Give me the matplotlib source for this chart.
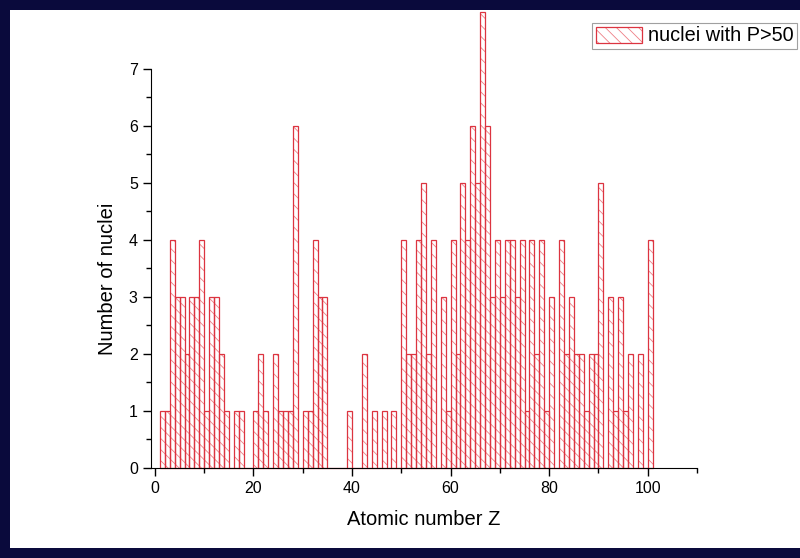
import matplotlib.pyplot as plt
import matplotlib.patches as mpatches
from matplotlib.ticker import FixedLocator

plt.rcParams['font.family'] = ['Liberation Sans', 'DejaVu Sans']
plt.rcParams['hatch.linewidth'] = 0.6

# atomic number Z and number of nuclei with P>50 for each Z
z_values = list(range(1, 101))
counts = [1, 1, 4, 3, 3, 2, 3, 3, 4, 1,
          3, 3, 2, 1, 0, 1, 1, 0, 0, 1,
          2, 1, 0, 2, 1, 1, 1, 6, 0, 1,
          1, 4, 3, 3, 0, 0, 0, 0, 1, 0,
          0, 2, 0, 1, 0, 1, 0, 1, 0, 4,
          2, 2, 4, 5, 2, 4, 0, 3, 1, 4,
          2, 5, 4, 6, 5, 8, 6, 3, 4, 3,
          4, 4, 3, 4, 1, 4, 2, 4, 1, 3,
          0, 4, 2, 3, 2, 2, 1, 2, 2, 5,
          0, 3, 1, 3, 1, 2, 0, 2, 0, 4]
x_ticks = [0, 20, 40, 60, 80, 100]
x_minor = [10, 30, 50, 70, 90, 110]
y_ticks = [0, 1, 2, 3, 4, 5, 6, 7]
y_minor = [0.5, 1.5, 2.5, 3.5, 4.5, 5.5, 6.5]

red = '#dc3440'
pink = '#ee7f86'

fig = plt.figure(figsize=(8, 5.58), dpi=100, facecolor='#0a0a3c')
# white panel inside the dark frame
fig.patches.append(mpatches.Rectangle((10 / 800, 10 / 558), 790 / 800, 538 / 558,
                                      transform=fig.transFigure, facecolor='white',
                                      edgecolor='none', zorder=-10))

ax = fig.add_axes([151 / 800, 1 - 468 / 558, (697 - 151) / 800, (468 - 11.5) / 558])
ax.set_facecolor('none')
ax.set_zorder(5)

# hatch in a lighter red, outline on top
hatched = ax.bar(z_values, counts, width=1.0, align='edge', facecolor='white',
                 edgecolor=pink, linewidth=0, hatch='\\\\\\', clip_on=False)
outline = ax.bar(z_values, counts, width=1.0, align='edge', fill=False,
                 edgecolor=red, linewidth=0.9, clip_on=False)

ax.set_xlim(-0.8, 110)
ax.set_ylim(0, 8)
ax.set_xticks(x_ticks)
ax.set_yticks(y_ticks)
ax.xaxis.set_minor_locator(FixedLocator(x_minor))
ax.yaxis.set_minor_locator(FixedLocator(y_minor))
ax.tick_params(which='major', direction='out', length=6, width=1, labelsize=11.5)
ax.tick_params(which='minor', direction='out', length=3.5, width=1)
ax.spines['top'].set_visible(False)
ax.spines['right'].set_visible(False)
ax.spines['left'].set_bounds(0, 7)
ax.set_xlabel('Atomic number Z', fontsize=14.5)
ax.set_ylabel('Number of nuclei', fontsize=14.5)
ax.xaxis.set_label_coords(0.499, -0.092)
ax.yaxis.set_label_coords(-0.062, 0.414)

leg = ax.legend([(hatched, outline)], ['nuclei with P>50'],
                loc='upper left', bbox_to_anchor=(592 / 800, 1 - 22.5 / 558),
                bbox_transform=fig.transFigure, fontsize=14.3, fancybox=False,
                edgecolor='#a0a0a0', framealpha=1, handlelength=2.3,
                handleheight=0.86, borderpad=0.2, handletextpad=0.3,
                borderaxespad=0)
leg.get_frame().set_linewidth(0.8)

fig.savefig('out.png', dpi=100, facecolor=fig.get_facecolor())
